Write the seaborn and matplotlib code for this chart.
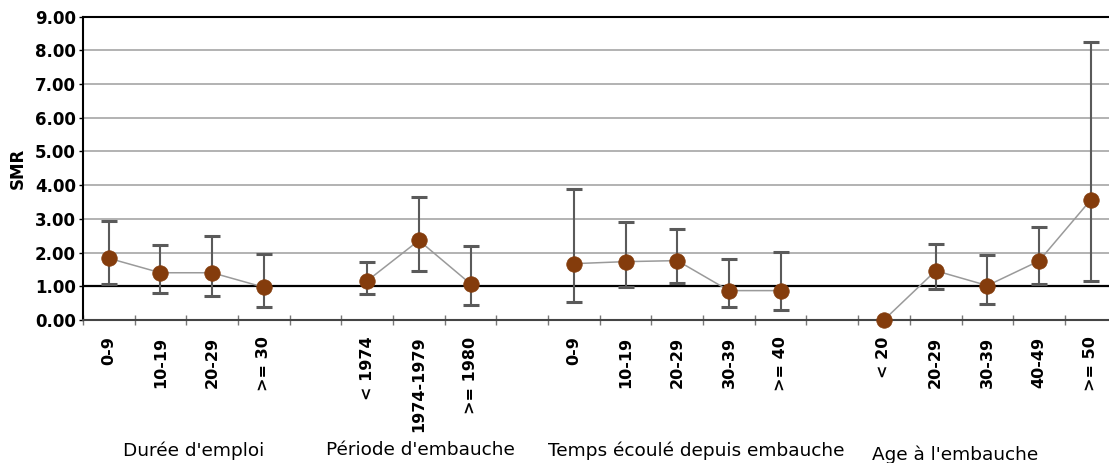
import numpy as np
import pandas as pd
import matplotlib
matplotlib.use("Agg")
import matplotlib.pyplot as plt
import seaborn as sns

# Données (SMR et intervalles de confiance)
groupes = ["Durée d'emploi", "Période d'embauche", "Temps écoulé depuis embauche", "Age à l'embauche"]

cat_duree = ["0-9", "10-19", "20-29", ">= 30"]
smr_duree = [1.83, 1.40, 1.40, 0.97]
bas_duree = [1.08, 0.81, 0.70, 0.39]
haut_duree = [2.94, 2.22, 2.50, 1.95]

cat_periode = ["< 1974", "1974-1979", ">= 1980"]
smr_periode = [1.16, 2.36, 1.07]
bas_periode = [0.77, 1.45, 0.44]
haut_periode = [1.71, 3.65, 2.20]

cat_temps = ["0-9", "10-19", "20-29", "30-39", ">= 40"]
smr_temps = [1.67, 1.73, 1.76, 0.87, 0.87]
bas_temps = [0.54, 0.97, 1.09, 0.38, 0.30]
haut_temps = [3.89, 2.92, 2.69, 1.81, 2.03]

cat_age = ["< 20", "20-29", "30-39", "40-49", ">= 50"]
smr_age = [0.00, 1.46, 1.02, 1.75, 3.56]
bas_age = [0.00, 0.92, 0.48, 1.06, 1.17]
haut_age = [0.00, 2.26, 1.93, 2.76, 8.24]

cats = [cat_duree, cat_periode, cat_temps, cat_age]
smrs = [smr_duree, smr_periode, smr_temps, smr_age]
bas = [bas_duree, bas_periode, bas_temps, bas_age]
haut = [haut_duree, haut_periode, haut_temps, haut_age]

# Construction du tableau : une case vide entre chaque groupe
rows = []
pos = 0
for g, c, s, lo, hi in zip(groupes, cats, smrs, bas, haut):
    for i in range(len(c)):
        rows.append({"groupe": g, "cat": c[i], "x": pos, "smr": s[i], "lo": lo[i], "hi": hi[i]})
        pos += 1
    pos += 1
df = pd.DataFrame(rows)
n_slots = pos - 1

sns.set_style("white")
plt.rcParams['font.family'] = ['DejaVu Sans']
plt.rcParams['text.color'] = 'black'
plt.rcParams['xtick.color'] = 'black'
plt.rcParams['ytick.color'] = 'black'

fig = plt.figure(figsize=(11.09, 4.63), dpi=100)
ax = fig.add_axes([0.0748, 0.309, 0.932, 0.655])

# Grille horizontale
for v in range(0, 10):
    ax.axhline(v, color="#a6a6a6", lw=1.2, zorder=0)
ax.axhline(1, color="black", lw=1.6, zorder=1)

# Barres d'erreur
brown = "#843c0c"
err = df[df["hi"] > 0]
ax.errorbar(err["x"], err["smr"], yerr=[err["smr"] - err["lo"], err["hi"] - err["smr"]],
            fmt="none", ecolor="#5a5a5a", elinewidth=1.5, capsize=5.5, capthick=2.2, zorder=2)

# Lignes reliant les points de chaque groupe + marqueurs
for g in groupes:
    sub = df[df["groupe"] == g]
    sns.lineplot(data=sub, x="x", y="smr", ax=ax, color="#9a9a9a", lw=1.1, zorder=3,
                 sort=False, estimator=None)
sns.scatterplot(data=df, x="x", y="smr", ax=ax, color=brown, s=125, edgecolor=brown,
                linewidth=0.5, zorder=5, clip_on=False)

ax.set_xlim(-0.5, n_slots - 0.5)
ax.set_ylim(0, 9)
ax.set_yticks(np.arange(0, 10))
ax.set_yticklabels([f"{v:.2f}" for v in range(0, 10)], fontsize=12, fontweight="bold")
ax.set_ylabel("SMR", fontsize=12, fontweight="bold", labelpad=6, color="black")
ax.set_xlabel("")

ax.set_xticks(df["x"])
ax.set_xticklabels(df["cat"], rotation=90, fontsize=11.5, fontweight="bold")
ax.tick_params(axis="x", which="major", bottom=True, length=0, pad=12)
ax.set_xticks(np.arange(-0.5, n_slots, 1), minor=True)
ax.tick_params(axis="x", which="minor", bottom=True, direction="inout", length=7, color="#777777", width=1)
ax.tick_params(axis="y", left=True, direction="out", length=3, color="black", width=1, pad=2)

for side in ["top", "left"]:
    ax.spines[side].set_color("black")
    ax.spines[side].set_linewidth(1.5)
ax.spines["bottom"].set_color("#444444")
ax.spines["bottom"].set_linewidth(1.5)
ax.spines["right"].set_visible(False)

# Titres des groupes
for g, xp, yp in zip(groupes, [1.64, 6.03, 11.37, 16.38], [-0.43, -0.43, -0.43, -0.445]):
    ax.text(xp, yp, g, transform=ax.get_xaxis_transform(), ha="center", va="center", fontsize=13.3)

fig.savefig("out.png", dpi=100)
